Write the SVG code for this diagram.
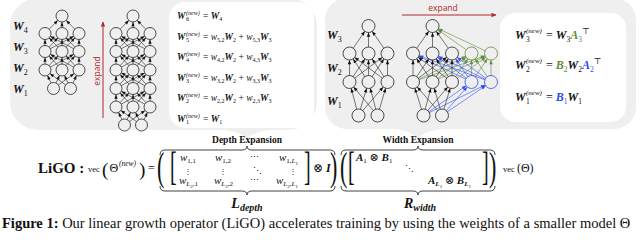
<svg xmlns="http://www.w3.org/2000/svg" width="640" height="246" viewBox="0 0 640 246">
<style>
.panel{fill:#efefef}
.box{fill:#fff}
.e{stroke:#222;stroke-width:0.6}
.eL{marker-end:url(#aL)}
.eR{marker-end:url(#aR)}
.eb{stroke:#2c4cf2;stroke-width:0.6;marker-end:url(#aB)}
.eg{stroke:#5f8c3c;stroke-width:0.6;marker-end:url(#aG)}
.n{fill:#efefef;stroke:#222;stroke-width:0.8}
.nb{fill:#efefef;stroke:#2c4cf2;stroke-width:0.8}
.ng{fill:#efefef;stroke:#5f8c3c;stroke-width:0.8}
.m{font-family:"Liberation Serif","DejaVu Serif",serif;fill:#111}
.bi{font-weight:bold;font-style:italic}
.it{font-style:italic}
.sym{font-family:"DejaVu Serif",serif}
.lbl{font-family:"Liberation Serif",serif;font-weight:bold;font-size:9.5px;fill:#111}
.ex{font-family:"Open Sans","DejaVu Sans",sans-serif;font-size:8.5px;fill:#b22b2b}
.brace{fill:none;stroke:#111;stroke-width:0.8}
</style>
<defs>
<marker id="aL" markerUnits="userSpaceOnUse" orient="auto" markerWidth="1" markerHeight="1" style="overflow:visible"><path d="M-10.2,-1.6 L-6,0 L-10.2,1.6 z" fill="#111"/></marker>
<marker id="aR" markerUnits="userSpaceOnUse" orient="auto" markerWidth="1" markerHeight="1" style="overflow:visible"><path d="M-10.7,-1.7 L-6.5,0 L-10.7,1.7 z" fill="#111"/></marker>
<marker id="aB" markerUnits="userSpaceOnUse" orient="auto" markerWidth="1" markerHeight="1" style="overflow:visible"><path d="M-10.7,-1.7 L-6.5,0 L-10.7,1.7 z" fill="#2c4cf2"/></marker>
<marker id="aG" markerUnits="userSpaceOnUse" orient="auto" markerWidth="1" markerHeight="1" style="overflow:visible"><path d="M-10.7,-1.7 L-6.5,0 L-10.7,1.7 z" fill="#5f8c3c"/></marker>
<marker id="aRed" markerUnits="userSpaceOnUse" orient="auto" markerWidth="1" markerHeight="1" style="overflow:visible"><path d="M-4.5,-2.2 L0.5,0 L-4.5,2.2 z" fill="#b22b2b"/></marker>
</defs>

<!-- panels -->
<g id="depth-panel">
<rect class="panel" x="10" y="-2" width="307" height="132" rx="28"/>
<path class="panel" d="M205,129 C225,129 240,131 247,139 C254,131 269,129 289,129 Z"/>
<rect class="box" x="169" y="2" width="145" height="126" rx="16"/>
</g>
<g id="width-panel">
<rect class="panel" x="325" y="-2" width="311" height="131" rx="22"/>
<path class="panel" d="M376,128 C396,128 411,130 418,139 C425,130 440,128 460,128 Z"/>
<rect class="box" x="500" y="13" width="126" height="109" rx="15"/>
</g>

<!-- connectors -->
<g id="connectors">
<!-- small depth net -->
<g class="e eL">
<line x1="53.5" y1="88.5" x2="45" y2="70"/><line x1="53.5" y1="88.5" x2="62" y2="70"/><line x1="53.5" y1="88.5" x2="79" y2="70"/>
<line x1="70.5" y1="88.5" x2="45" y2="70"/><line x1="70.5" y1="88.5" x2="62" y2="70"/><line x1="70.5" y1="88.5" x2="79" y2="70"/>
<line x1="45" y1="70" x2="45" y2="51.5"/><line x1="45" y1="70" x2="62" y2="51.5"/><line x1="45" y1="70" x2="79" y2="51.5"/>
<line x1="62" y1="70" x2="45" y2="51.5"/><line x1="62" y1="70" x2="62" y2="51.5"/><line x1="62" y1="70" x2="79" y2="51.5"/>
<line x1="79" y1="70" x2="45" y2="51.5"/><line x1="79" y1="70" x2="62" y2="51.5"/><line x1="79" y1="70" x2="79" y2="51.5"/>
<line x1="45" y1="51.5" x2="45" y2="33.5"/><line x1="45" y1="51.5" x2="62" y2="33.5"/><line x1="45" y1="51.5" x2="79" y2="33.5"/>
<line x1="62" y1="51.5" x2="45" y2="33.5"/><line x1="62" y1="51.5" x2="62" y2="33.5"/><line x1="62" y1="51.5" x2="79" y2="33.5"/>
<line x1="79" y1="51.5" x2="45" y2="33.5"/><line x1="79" y1="51.5" x2="62" y2="33.5"/><line x1="79" y1="51.5" x2="79" y2="33.5"/>
<line x1="45" y1="33.5" x2="62" y2="16"/><line x1="62" y1="33.5" x2="62" y2="16"/><line x1="79" y1="33.5" x2="62" y2="16"/>
</g>
<!-- deep depth net -->
<g class="e eL">
<line x1="124.5" y1="125" x2="116" y2="107"/><line x1="124.5" y1="125" x2="133" y2="107"/><line x1="124.5" y1="125" x2="150" y2="107"/>
<line x1="141.5" y1="125" x2="116" y2="107"/><line x1="141.5" y1="125" x2="133" y2="107"/><line x1="141.5" y1="125" x2="150" y2="107"/>
<line x1="116" y1="107" x2="116" y2="88.5"/><line x1="116" y1="107" x2="133" y2="88.5"/><line x1="116" y1="107" x2="150" y2="88.5"/>
<line x1="133" y1="107" x2="116" y2="88.5"/><line x1="133" y1="107" x2="133" y2="88.5"/><line x1="133" y1="107" x2="150" y2="88.5"/>
<line x1="150" y1="107" x2="116" y2="88.5"/><line x1="150" y1="107" x2="133" y2="88.5"/><line x1="150" y1="107" x2="150" y2="88.5"/>
<line x1="116" y1="88.5" x2="116" y2="70"/><line x1="116" y1="88.5" x2="133" y2="70"/><line x1="116" y1="88.5" x2="150" y2="70"/>
<line x1="133" y1="88.5" x2="116" y2="70"/><line x1="133" y1="88.5" x2="133" y2="70"/><line x1="133" y1="88.5" x2="150" y2="70"/>
<line x1="150" y1="88.5" x2="116" y2="70"/><line x1="150" y1="88.5" x2="133" y2="70"/><line x1="150" y1="88.5" x2="150" y2="70"/>
<line x1="116" y1="70" x2="116" y2="51.5"/><line x1="116" y1="70" x2="133" y2="51.5"/><line x1="116" y1="70" x2="150" y2="51.5"/>
<line x1="133" y1="70" x2="116" y2="51.5"/><line x1="133" y1="70" x2="133" y2="51.5"/><line x1="133" y1="70" x2="150" y2="51.5"/>
<line x1="150" y1="70" x2="116" y2="51.5"/><line x1="150" y1="70" x2="133" y2="51.5"/><line x1="150" y1="70" x2="150" y2="51.5"/>
<line x1="116" y1="51.5" x2="116" y2="33.5"/><line x1="116" y1="51.5" x2="133" y2="33.5"/><line x1="116" y1="51.5" x2="150" y2="33.5"/>
<line x1="133" y1="51.5" x2="116" y2="33.5"/><line x1="133" y1="51.5" x2="133" y2="33.5"/><line x1="133" y1="51.5" x2="150" y2="33.5"/>
<line x1="150" y1="51.5" x2="116" y2="33.5"/><line x1="150" y1="51.5" x2="133" y2="33.5"/><line x1="150" y1="51.5" x2="150" y2="33.5"/>
<line x1="116" y1="33.5" x2="133" y2="16"/><line x1="133" y1="33.5" x2="133" y2="16"/><line x1="150" y1="33.5" x2="133" y2="16"/>
</g>
<!-- width net A -->
<g class="e eR">
<line x1="358.5" y1="115.5" x2="349.5" y2="82"/><line x1="358.5" y1="115.5" x2="368.5" y2="82"/><line x1="358.5" y1="115.5" x2="387.5" y2="82"/>
<line x1="377.5" y1="115.5" x2="349.5" y2="82"/><line x1="377.5" y1="115.5" x2="368.5" y2="82"/><line x1="377.5" y1="115.5" x2="387.5" y2="82"/>
<line x1="349.5" y1="82" x2="349.5" y2="53.5"/><line x1="349.5" y1="82" x2="368.5" y2="53.5"/><line x1="349.5" y1="82" x2="387.5" y2="53.5"/>
<line x1="368.5" y1="82" x2="349.5" y2="53.5"/><line x1="368.5" y1="82" x2="368.5" y2="53.5"/><line x1="368.5" y1="82" x2="387.5" y2="53.5"/>
<line x1="387.5" y1="82" x2="349.5" y2="53.5"/><line x1="387.5" y1="82" x2="368.5" y2="53.5"/><line x1="387.5" y1="82" x2="387.5" y2="53.5"/>
<line x1="349.5" y1="53.5" x2="368.5" y2="26"/><line x1="368.5" y1="53.5" x2="368.5" y2="26"/><line x1="387.5" y1="53.5" x2="368.5" y2="26"/>
</g>
<!-- width net B: green -->
<g class="eg">
<line x1="413" y1="82" x2="471.5" y2="53.5"/><line x1="413" y1="82" x2="491" y2="53.5"/>
<line x1="432.5" y1="82" x2="471.5" y2="53.5"/><line x1="432.5" y1="82" x2="491" y2="53.5"/>
<line x1="452" y1="82" x2="471.5" y2="53.5"/><line x1="452" y1="82" x2="491" y2="53.5"/>
<line x1="471.5" y1="82" x2="471.5" y2="53.5"/><line x1="471.5" y1="82" x2="491" y2="53.5"/>
<line x1="491" y1="82" x2="471.5" y2="53.5"/><line x1="491" y1="82" x2="491" y2="53.5"/>
<line x1="471.5" y1="53.5" x2="432.5" y2="26"/><line x1="491" y1="53.5" x2="432.5" y2="26"/>
</g>
<!-- width net B: blue -->
<g class="eb">
<line x1="423.5" y1="115.5" x2="471.5" y2="82"/><line x1="423.5" y1="115.5" x2="491" y2="82"/>
<line x1="442" y1="115.5" x2="471.5" y2="82"/><line x1="442" y1="115.5" x2="491" y2="82"/>
<line x1="471.5" y1="82" x2="413" y2="53.5"/><line x1="471.5" y1="82" x2="432.5" y2="53.5"/><line x1="471.5" y1="82" x2="452" y2="53.5"/>
<line x1="491" y1="82" x2="413" y2="53.5"/><line x1="491" y1="82" x2="432.5" y2="53.5"/><line x1="491" y1="82" x2="452" y2="53.5"/>
</g>
<!-- width net B: black -->
<g class="e eR">
<line x1="423.5" y1="115.5" x2="413" y2="82"/><line x1="423.5" y1="115.5" x2="432.5" y2="82"/><line x1="423.5" y1="115.5" x2="452" y2="82"/>
<line x1="442" y1="115.5" x2="413" y2="82"/><line x1="442" y1="115.5" x2="432.5" y2="82"/><line x1="442" y1="115.5" x2="452" y2="82"/>
<line x1="413" y1="82" x2="413" y2="53.5"/><line x1="413" y1="82" x2="432.5" y2="53.5"/><line x1="413" y1="82" x2="452" y2="53.5"/>
<line x1="432.5" y1="82" x2="413" y2="53.5"/><line x1="432.5" y1="82" x2="432.5" y2="53.5"/><line x1="432.5" y1="82" x2="452" y2="53.5"/>
<line x1="452" y1="82" x2="413" y2="53.5"/><line x1="452" y1="82" x2="432.5" y2="53.5"/><line x1="452" y1="82" x2="452" y2="53.5"/>
<line x1="413" y1="53.5" x2="432.5" y2="26"/><line x1="432.5" y1="53.5" x2="432.5" y2="26"/><line x1="452" y1="53.5" x2="432.5" y2="26"/>
</g>
<!-- expand arrows -->
<line x1="103" y1="118" x2="103" y2="22" stroke="#b22b2b" stroke-width="1" marker-end="url(#aRed)"/>
<line x1="402" y1="15" x2="496" y2="15" stroke="#b22b2b" stroke-width="1" marker-end="url(#aRed)"/>
</g>

<!-- nodes -->
<g id="net-small">
<circle class="n" cx="62" cy="16" r="6"/>
<circle class="n" cx="45" cy="33.5" r="6"/><circle class="n" cx="62" cy="33.5" r="6"/><circle class="n" cx="79" cy="33.5" r="6"/>
<circle class="n" cx="45" cy="51.5" r="6"/><circle class="n" cx="62" cy="51.5" r="6"/><circle class="n" cx="79" cy="51.5" r="6"/>
<circle class="n" cx="45" cy="70" r="6"/><circle class="n" cx="62" cy="70" r="6"/><circle class="n" cx="79" cy="70" r="6"/>
<circle class="n" cx="53.5" cy="88.5" r="6"/><circle class="n" cx="70.5" cy="88.5" r="6"/>
</g>
<g id="net-deep">
<circle class="n" cx="133" cy="16" r="6"/>
<circle class="n" cx="116" cy="33.5" r="6"/><circle class="n" cx="133" cy="33.5" r="6"/><circle class="n" cx="150" cy="33.5" r="6"/>
<circle class="n" cx="116" cy="51.5" r="6"/><circle class="n" cx="133" cy="51.5" r="6"/><circle class="n" cx="150" cy="51.5" r="6"/>
<circle class="n" cx="116" cy="70" r="6"/><circle class="n" cx="133" cy="70" r="6"/><circle class="n" cx="150" cy="70" r="6"/>
<circle class="n" cx="116" cy="88.5" r="6"/><circle class="n" cx="133" cy="88.5" r="6"/><circle class="n" cx="150" cy="88.5" r="6"/>
<circle class="n" cx="116" cy="107" r="6"/><circle class="n" cx="133" cy="107" r="6"/><circle class="n" cx="150" cy="107" r="6"/>
<circle class="n" cx="124.5" cy="125" r="6"/><circle class="n" cx="141.5" cy="125" r="6"/>
</g>
<g id="net-width-small">
<circle class="n" cx="368.5" cy="26" r="6.5"/>
<circle class="n" cx="349.5" cy="53.5" r="6.5"/><circle class="n" cx="368.5" cy="53.5" r="6.5"/><circle class="n" cx="387.5" cy="53.5" r="6.5"/>
<circle class="n" cx="349.5" cy="82" r="6.5"/><circle class="n" cx="368.5" cy="82" r="6.5"/><circle class="n" cx="387.5" cy="82" r="6.5"/>
<circle class="n" cx="358.5" cy="115.5" r="6.5"/><circle class="n" cx="377.5" cy="115.5" r="6.5"/>
</g>
<g id="net-width-large">
<circle class="n" cx="432.5" cy="26" r="6.5"/>
<circle class="n" cx="413" cy="53.5" r="6.5"/><circle class="n" cx="432.5" cy="53.5" r="6.5"/><circle class="n" cx="452" cy="53.5" r="6.5"/>
<circle class="ng" cx="471.5" cy="53.5" r="6.5"/><circle class="ng" cx="491" cy="53.5" r="6.5"/>
<circle class="n" cx="413" cy="82" r="6.5"/><circle class="n" cx="432.5" cy="82" r="6.5"/><circle class="n" cx="452" cy="82" r="6.5"/>
<circle class="nb" cx="471.5" cy="82" r="6.5"/><circle class="nb" cx="491" cy="82" r="6.5"/>
<circle class="n" cx="423.5" cy="115.5" r="6.5"/><circle class="n" cx="442" cy="115.5" r="6.5"/>
</g>

<!-- layer labels -->
<g id="depth-labels" class="m" font-size="12">
<text x="13" y="30"><tspan class="bi">W</tspan><tspan font-size="8" dy="2.5">4</tspan></text>
<text x="13" y="51"><tspan class="bi">W</tspan><tspan font-size="8" dy="2.5">3</tspan></text>
<text x="13" y="72"><tspan class="bi">W</tspan><tspan font-size="8" dy="2.5">2</tspan></text>
<text x="13" y="93"><tspan class="bi">W</tspan><tspan font-size="8" dy="2.5">1</tspan></text>
</g>
<g id="width-labels" class="m" font-size="12">
<text x="327" y="39"><tspan class="bi">W</tspan><tspan font-size="8" dy="2.5">3</tspan></text>
<text x="327" y="72"><tspan class="bi">W</tspan><tspan font-size="8" dy="2.5">2</tspan></text>
<text x="327" y="105"><tspan class="bi">W</tspan><tspan font-size="8" dy="2.5">1</tspan></text>
</g>
<g id="expand-labels">
<text class="ex" transform="translate(100,71) rotate(-90)" text-anchor="middle">expand</text>
<text class="ex" x="443" y="11" text-anchor="middle">expand</text>
</g>

<!-- depth equations -->
<g id="depth-equations" class="m" font-size="9.5">
<text x="177" y="19" class="bi">W</text><text x="186" y="21" font-size="6">6</text><text x="186" y="15" font-size="6" class="it">(new)</text>
<text x="203" y="19">= <tspan class="bi">W</tspan><tspan font-size="6" dy="2">4</tspan></text>
<text x="177" y="39.5" class="bi">W</text><text x="186" y="41.5" font-size="6">5</text><text x="186" y="35.5" font-size="6" class="it">(new)</text>
<text x="203" y="39.5">= <tspan class="it">w</tspan><tspan font-size="6" dy="2">5,2</tspan><tspan class="bi" dy="-2">W</tspan><tspan font-size="6" dy="2">2</tspan><tspan dy="-2"> + </tspan><tspan class="it">w</tspan><tspan font-size="6" dy="2">5,3</tspan><tspan class="bi" dy="-2">W</tspan><tspan font-size="6" dy="2">3</tspan></text>
<text x="177" y="60" class="bi">W</text><text x="186" y="62" font-size="6">4</text><text x="186" y="56" font-size="6" class="it">(new)</text>
<text x="203" y="60">= <tspan class="it">w</tspan><tspan font-size="6" dy="2">4,2</tspan><tspan class="bi" dy="-2">W</tspan><tspan font-size="6" dy="2">2</tspan><tspan dy="-2"> + </tspan><tspan class="it">w</tspan><tspan font-size="6" dy="2">4,3</tspan><tspan class="bi" dy="-2">W</tspan><tspan font-size="6" dy="2">3</tspan></text>
<text x="177" y="80.5" class="bi">W</text><text x="186" y="82.5" font-size="6">3</text><text x="186" y="76.5" font-size="6" class="it">(new)</text>
<text x="203" y="80.5">= <tspan class="it">w</tspan><tspan font-size="6" dy="2">3,2</tspan><tspan class="bi" dy="-2">W</tspan><tspan font-size="6" dy="2">2</tspan><tspan dy="-2"> + </tspan><tspan class="it">w</tspan><tspan font-size="6" dy="2">3,3</tspan><tspan class="bi" dy="-2">W</tspan><tspan font-size="6" dy="2">3</tspan></text>
<text x="177" y="101" class="bi">W</text><text x="186" y="103" font-size="6">2</text><text x="186" y="97" font-size="6" class="it">(new)</text>
<text x="203" y="101">= <tspan class="it">w</tspan><tspan font-size="6" dy="2">2,2</tspan><tspan class="bi" dy="-2">W</tspan><tspan font-size="6" dy="2">2</tspan><tspan dy="-2"> + </tspan><tspan class="it">w</tspan><tspan font-size="6" dy="2">2,3</tspan><tspan class="bi" dy="-2">W</tspan><tspan font-size="6" dy="2">3</tspan></text>
<text x="177" y="121.5" class="bi">W</text><text x="186" y="123.5" font-size="6">1</text><text x="186" y="117.5" font-size="6" class="it">(new)</text>
<text x="203" y="121.5">= <tspan class="bi">W</tspan><tspan font-size="6" dy="2">1</tspan></text>
</g>

<!-- width equations -->
<g id="width-equations" class="m" font-size="12">
<text x="515" y="39" class="bi">W</text><text x="526" y="42" font-size="7.5">3</text><text x="526" y="33" font-size="7" class="it">(new)</text>
<text x="546" y="39">= <tspan class="bi">W</tspan><tspan font-size="7.5" dy="3">3</tspan><tspan class="bi" dy="-3" fill="#5f8c3c">A</tspan><tspan font-size="7.5" dy="3" fill="#5f8c3c">3</tspan><tspan font-size="8" dy="-8">⊤</tspan></text>
<text x="515" y="69" class="bi">W</text><text x="526" y="72" font-size="7.5">2</text><text x="526" y="63" font-size="7" class="it">(new)</text>
<text x="546" y="69">= <tspan class="bi" fill="#5f8c3c">B</tspan><tspan font-size="7.5" dy="3" fill="#5f8c3c">2</tspan><tspan class="bi" dy="-3">W</tspan><tspan font-size="7.5" dy="3">2</tspan><tspan class="bi" dy="-3" fill="#2c4cf2">A</tspan><tspan font-size="7.5" dy="3" fill="#2c4cf2">2</tspan><tspan font-size="8" dy="-8">⊤</tspan></text>
<text x="515" y="101" class="bi">W</text><text x="526" y="104" font-size="7.5">1</text><text x="526" y="95" font-size="7" class="it">(new)</text>
<text x="546" y="101">= <tspan class="bi" fill="#2c4cf2">B</tspan><tspan font-size="7.5" dy="3" fill="#2c4cf2">1</tspan><tspan class="bi" dy="-3">W</tspan><tspan font-size="7.5" dy="3">1</tspan></text>
</g>

<!-- formula -->
<g id="formula" class="m">
<text x="38" y="173" font-size="15" font-weight="bold">LiGO :</text>
<text x="88" y="172" font-size="8.5">vec</text>
<text x="102" y="176" font-size="19">(</text>
<text x="109.5" y="172" font-size="12">Θ</text>
<text x="119" y="166" font-size="7.5" class="it">(new)</text>
<text x="139" y="176" font-size="19">)</text>
<text x="148" y="172" font-size="12">=</text>
<text transform="translate(157,180) scale(0.55,1)" font-size="40">(</text>
<text transform="translate(170,180) scale(0.5,1)" font-size="40">[</text>
<text transform="translate(304,180) scale(0.5,1)" font-size="40">]</text>
<text x="313" y="172" font-size="12">⊗ <tspan class="bi">I</tspan></text>
<text transform="translate(330,180) scale(0.55,1)" font-size="40">)</text>
<text transform="translate(340,180) scale(0.55,1)" font-size="40">(</text>
<text transform="translate(348,180) scale(0.5,1)" font-size="40">[</text>
<text transform="translate(482,180) scale(0.5,1)" font-size="40">]</text>
<text transform="translate(489,180) scale(0.55,1)" font-size="40">)</text>
<text x="503" y="172" font-size="8.5">vec <tspan font-size="12">(Θ)</tspan></text>
<g font-size="11">
<text x="180" y="161"><tspan class="it">w</tspan><tspan font-size="7" dy="2">1,1</tspan></text>
<text x="215" y="161"><tspan class="it">w</tspan><tspan font-size="7" dy="2">1,2</tspan></text>
<text x="250" y="160" class="sym" font-size="9">⋯</text>
<text x="279" y="161"><tspan class="it">w</tspan><tspan font-size="7" dy="2">1,</tspan><tspan font-size="7" class="it">L</tspan><tspan font-size="5" dy="1.5">1</tspan></text>
<text x="184" y="174" class="sym" font-size="8">⋮</text>
<text x="219" y="174" class="sym" font-size="8">⋮</text>
<text x="253" y="174" class="sym" font-size="9">⋱</text>
<text x="289" y="174" class="sym" font-size="8">⋮</text>
<text x="179" y="184"><tspan class="it">w</tspan><tspan font-size="7" dy="2" class="it">L</tspan><tspan font-size="5" dy="1.5">2</tspan><tspan font-size="7" dy="-1.5">,1</tspan></text>
<text x="214" y="184"><tspan class="it">w</tspan><tspan font-size="7" dy="2" class="it">L</tspan><tspan font-size="5" dy="1.5">2</tspan><tspan font-size="7" dy="-1.5">,2</tspan></text>
<text x="250" y="183" class="sym" font-size="9">⋯</text>
<text x="276" y="184"><tspan class="it">w</tspan><tspan font-size="7" dy="2" class="it">L</tspan><tspan font-size="5" dy="1.5">2</tspan><tspan font-size="7" dy="-1.5">,</tspan><tspan font-size="7" class="it">L</tspan><tspan font-size="5" dy="1.5">1</tspan></text>
</g>
<g font-size="11">
<text x="356" y="161"><tspan class="bi">A</tspan><tspan font-size="7" dy="2">1</tspan><tspan dy="-2"> ⊗ </tspan><tspan class="bi">B</tspan><tspan font-size="7" dy="2">1</tspan></text>
<text x="405" y="172" class="sym" font-size="9">⋱</text>
<text x="428" y="184"><tspan class="bi">A</tspan><tspan font-size="7" dy="2" class="bi">L</tspan><tspan font-size="5" dy="1.5">1</tspan><tspan dy="-3.5"> ⊗ </tspan><tspan class="bi">B</tspan><tspan font-size="7" dy="2" class="bi">L</tspan><tspan font-size="5" dy="1.5">1</tspan></text>
</g>
</g>

<!-- braces -->
<g id="braces">
<path class="brace" d="M160,155 Q160,150 165,150 L242,150 Q247,150 247,146 Q247,150 252,150 L330,150 Q335,150 335,155"/>
<path class="brace" d="M341,155 Q341,150 346,150 L413,150 Q418,150 418,146 Q418,150 423,150 L490,150 Q495,150 495,155"/>
<path class="brace" d="M160,186 Q160,191 165,191 L242,191 Q247,191 247,195 Q247,191 252,191 L330,191 Q335,191 335,186"/>
<path class="brace" d="M341,186 Q341,191 346,191 L413,191 Q418,191 418,195 Q418,191 423,191 L490,191 Q495,191 495,186"/>
<text class="lbl" x="247" y="143" text-anchor="middle">Depth Expansion</text>
<text class="lbl" x="418" y="143" text-anchor="middle">Width Expansion</text>
<text class="m" x="247" y="208" text-anchor="middle" font-size="14"><tspan class="bi">L</tspan><tspan class="bi" font-size="10" dy="3">depth</tspan></text>
<text class="m" x="420" y="208" text-anchor="middle" font-size="14"><tspan class="bi">R</tspan><tspan class="bi" font-size="10" dy="3">width</tspan></text>
</g>

<!-- caption -->
<text id="caption" class="m" x="2" y="228" font-size="14.5"><tspan font-weight="bold">Figure 1:</tspan> Our linear growth operator (LiGO) accelerates training by using the weights of a smaller model Θ</text>
</svg>
